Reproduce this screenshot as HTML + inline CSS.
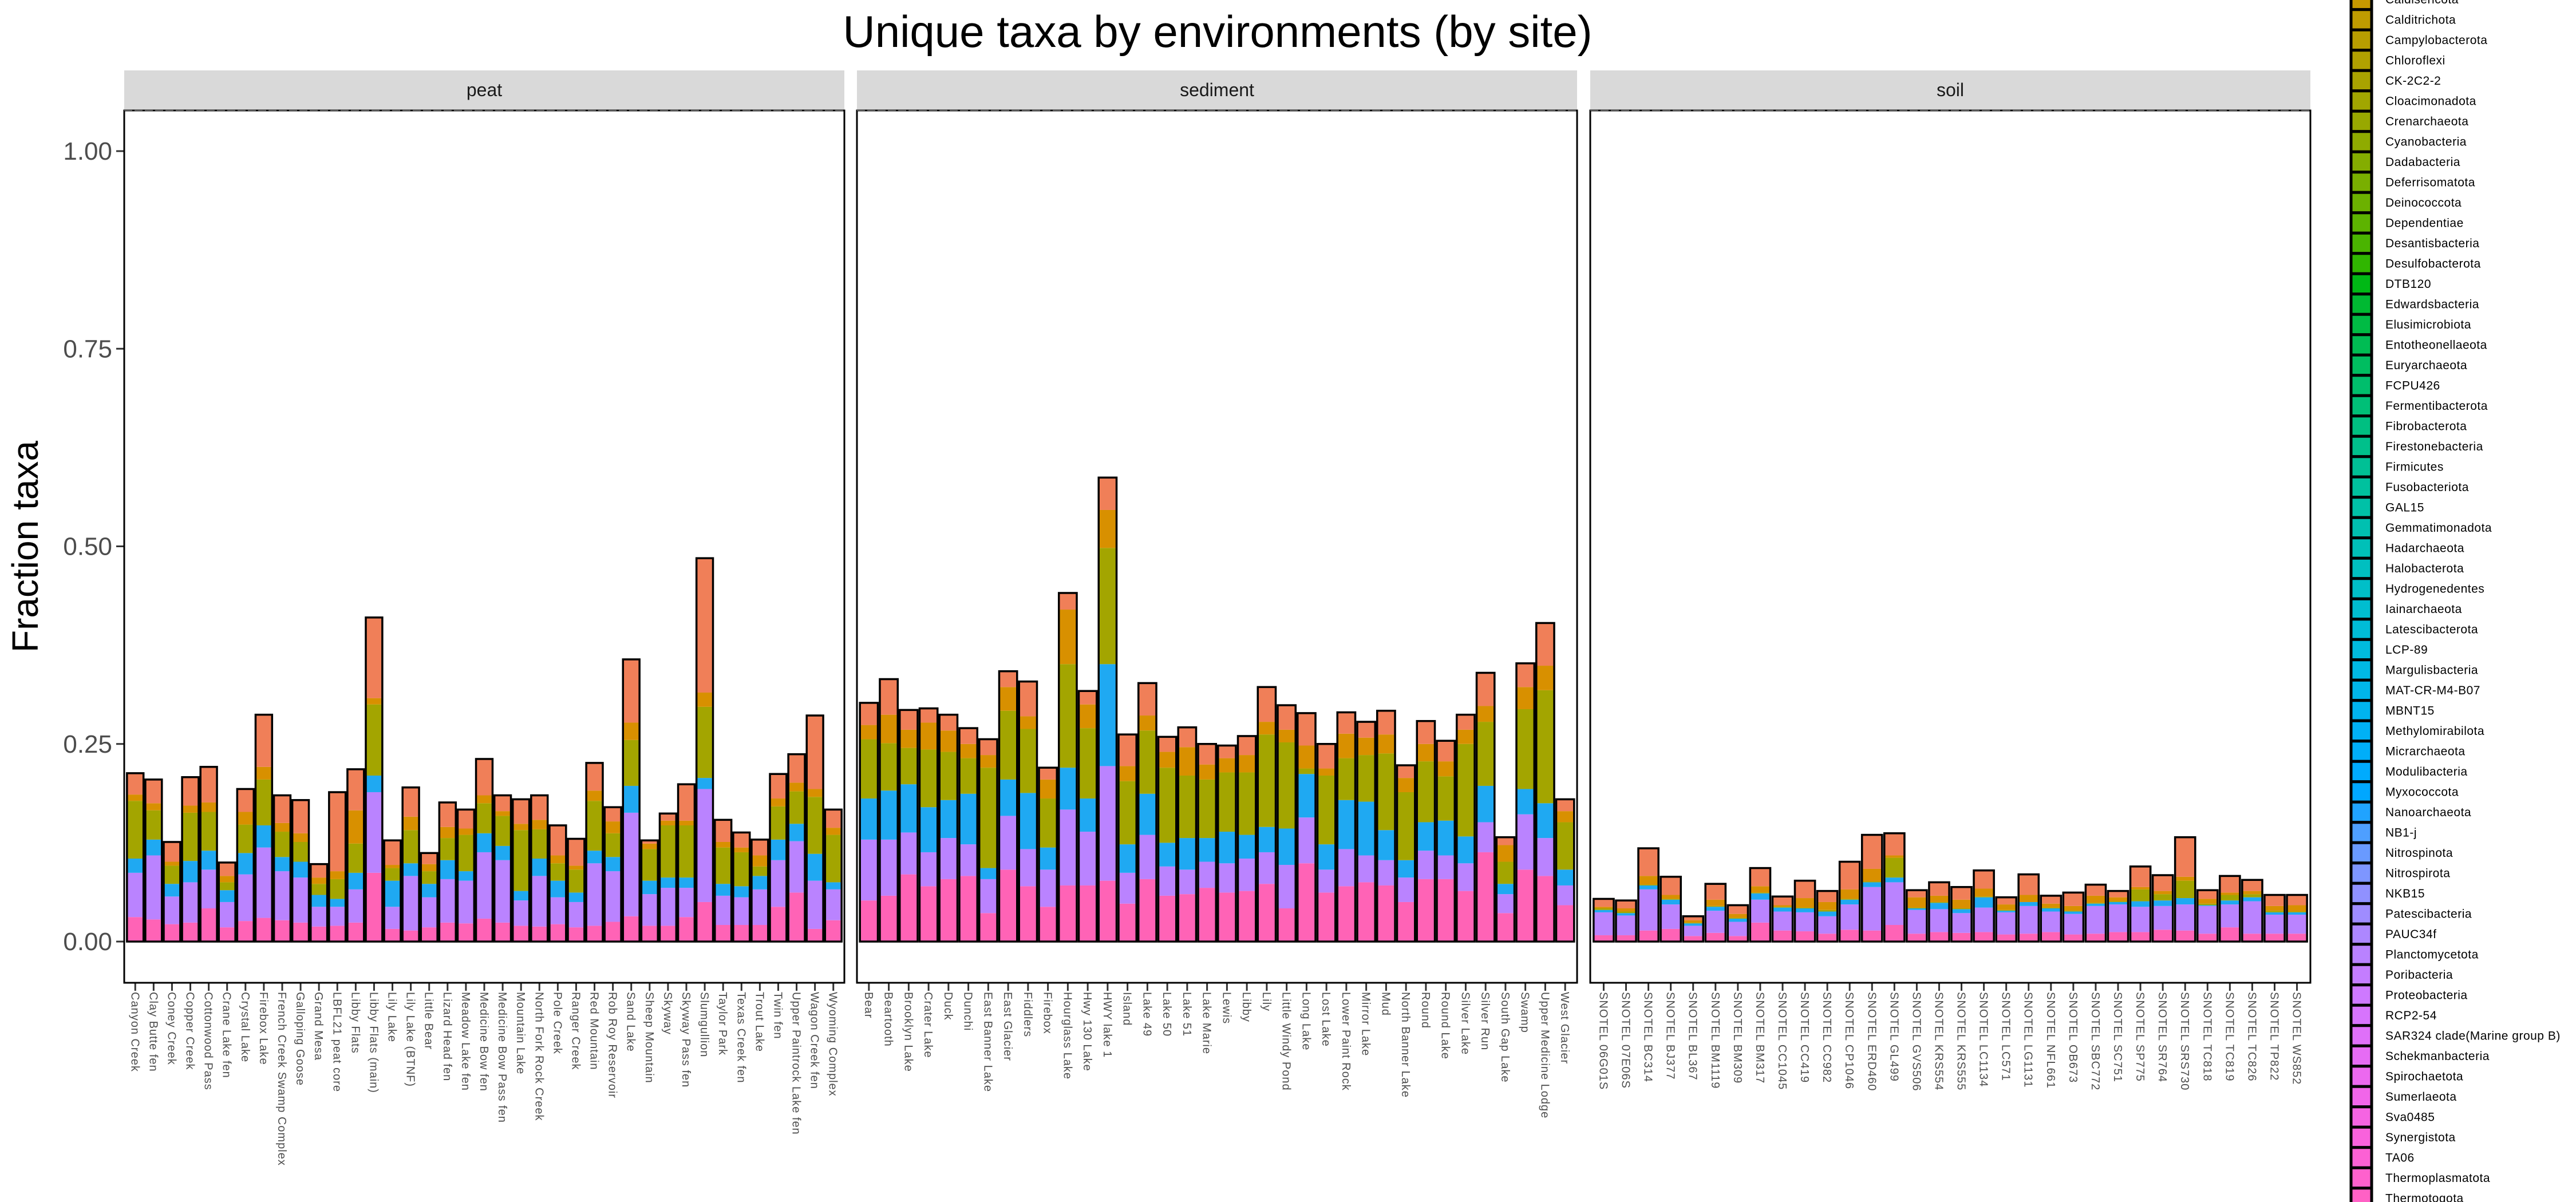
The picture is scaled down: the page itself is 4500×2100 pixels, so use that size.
<!DOCTYPE html>
<html><head><meta charset="utf-8">
<style>
html,body{margin:0;padding:0;background:#fff;}
svg{display:block;font-family:"Liberation Sans",Arial,sans-serif;}
</style></head>
<body>
<svg id="chart" width="4500" height="2100" viewBox="0 0 4500 2100" xmlns="http://www.w3.org/2000/svg">
<rect width="4500" height="2100" fill="#fff"/>
<text x="2127" y="82" font-size="78" text-anchor="middle" fill="#000">Unique taxa by environments (by site)</text>
<text transform="translate(66,955) rotate(-90)" font-size="64" text-anchor="middle" fill="#000">Fraction taxa</text>
<g id="panels"></g>
<g id="legend"></g>
</svg>
<script>
// ---------- data ----------
const yTicks = [0, 0.25, 0.5, 0.75, 1.0];
const yTickLabels = ["0.00", "0.25", "0.50", "0.75", "1.00"];
const facetNames = ["peat", "sediment", "soil"];

const peatSites = ["Canyon Creek","Clay Butte fen","Coney Creek","Copper Creek","Cottonwood Pass","Crane Lake fen","Crystal Lake","Firebox Lake","French Creek Swamp Complex","Galloping Goose","Grand Mesa","LBFL21 peat core","Libby Flats","Libby Flats (main)","Lily Lake","Lily Lake (BTNF)","Little Bear","Lizard Head fen","Meadow Lake fen","Medicine Bow fen","Medicine Bow Pass fen","Mountain Lake","North Fork Rock Creek","Pole Creek","Ranger Creek","Red Mountain","Rob Roy Reservoir","Sand Lake","Sheep Mountain","Skyway","Skyway Pass fen","Slumgullion","Taylor Park","Texas Creek fen","Trout Lake","Twin fen","Upper Paintrock Lake fen","Wagon Creek fen","Wyoming Complex"];
const peatPinkTop   = [.031,.028,.022,.024,.042,.018,.026,.030,.027,.024,.019,.020,.024,.087,.016,.014,.018,.024,.023,.029,.024,.020,.019,.022,.018,.020,.025,.032,.020,.020,.031,.050,.021,.021,.021,.044,.062,.016,.027];
const peatPurpleTop = [.087,.109,.057,.075,.091,.050,.085,.119,.089,.081,.044,.044,.066,.189,.044,.083,.056,.079,.077,.113,.103,.052,.083,.056,.050,.099,.089,.163,.060,.068,.068,.193,.058,.056,.066,.103,.127,.077,.066];
const peatCyanTop   = [.105,.129,.073,.102,.115,.065,.112,.147,.107,.101,.059,.054,.087,.210,.077,.099,.073,.103,.089,.137,.121,.064,.105,.077,.062,.115,.107,.197,.077,.081,.081,.207,.073,.070,.083,.129,.149,.111,.075];
const peatOliveTop  = [.178,.166,.096,.163,.164,.075,.148,.205,.139,.126,.073,.079,.124,.300,.093,.141,.089,.131,.135,.175,.159,.141,.142,.099,.091,.178,.137,.255,.117,.147,.147,.297,.119,.113,.095,.171,.190,.183,.135];
const peatGoldTop   = [.186,.175,.101,.172,.176,.083,.164,.221,.150,.137,.081,.089,.166,.308,.097,.158,.098,.145,.143,.185,.165,.149,.154,.109,.096,.191,.152,.277,.124,.153,.153,.315,.126,.119,.109,.181,.201,.193,.144];
const peatTotal     = [.213,.205,.126,.208,.221,.100,.193,.287,.185,.179,.098,.189,.218,.410,.128,.195,.112,.176,.167,.231,.185,.180,.185,.147,.130,.226,.170,.357,.128,.162,.199,.485,.154,.138,.129,.212,.237,.286,.167];

const sedSites = ["Bear","Beartooth","Brooklyn Lake","Crater Lake","Duck","Dunchi","East Banner Lake","East Glacier","Fiddlers","Firebox","Hourglass Lake","Hwy 130 Lake","HWY lake 1","Island","Lake 49","Lake 50","Lake 51","Lake Marie","Lewis","Libby","Lily","Little Windy Pond","Long Lake","Lost Lake","Lower Paint Rock","Mirror Lake","Mud","North Banner Lake","Round","Round Lake","Silver Lake","Silver Run","South Gap Lake","Swamp","Upper Medicine Lodge","West Glacier"];
const sedPinkTop   = [.052,.058,.085,.070,.079,.083,.036,.091,.070,.044,.071,.071,.077,.048,.079,.058,.060,.068,.062,.064,.073,.042,.099,.062,.070,.075,.071,.050,.079,.079,.064,.113,.036,.091,.083,.046];
const sedPurpleTop = [.129,.129,.138,.113,.131,.123,.079,.159,.117,.091,.167,.139,.222,.087,.135,.095,.091,.101,.099,.105,.113,.097,.157,.091,.117,.109,.103,.081,.115,.109,.099,.151,.060,.161,.131,.071];
const sedCyanTop   = [.181,.191,.199,.170,.179,.187,.093,.205,.188,.119,.220,.181,.351,.123,.187,.125,.131,.131,.139,.135,.145,.143,.212,.123,.179,.177,.141,.103,.151,.153,.133,.197,.073,.193,.175,.091];
const sedOliveTop  = [.256,.251,.245,.243,.240,.232,.220,.292,.269,.181,.351,.270,.498,.203,.267,.220,.210,.205,.214,.214,.262,.252,.219,.210,.232,.236,.238,.189,.228,.209,.250,.278,.101,.294,.318,.151];
const sedGoldTop   = [.274,.287,.268,.277,.267,.250,.236,.322,.285,.205,.420,.300,.546,.222,.286,.240,.246,.224,.232,.236,.278,.268,.248,.219,.263,.258,.262,.207,.250,.228,.268,.298,.122,.322,.349,.165];
const sedTotal     = [.302,.332,.293,.295,.287,.270,.256,.342,.329,.220,.441,.317,.587,.262,.327,.259,.271,.250,.248,.260,.322,.299,.289,.250,.290,.278,.292,.223,.279,.254,.287,.340,.132,.352,.403,.180];

const soilSites = ["SNOTEL 06G01S","SNOTEL 07E06S","SNOTEL BC314","SNOTEL BJ377","SNOTEL BL367","SNOTEL BM1119","SNOTEL BM309","SNOTEL BM317","SNOTEL CC1045","SNOTEL CC419","SNOTEL CC982","SNOTEL CP1046","SNOTEL ERD460","SNOTEL GL499","SNOTEL GVS506","SNOTEL KRS554","SNOTEL KRS555","SNOTEL LC1134","SNOTEL LC571","SNOTEL LG1131","SNOTEL NFL661","SNOTEL OB673","SNOTEL SBC772","SNOTEL SC751","SNOTEL SP775","SNOTEL SR764","SNOTEL SRS730","SNOTEL TC818","SNOTEL TC819","SNOTEL TC826","SNOTEL TP822","SNOTEL WS852"];
const soilPinkTop   = [.008,.008,.014,.016,.007,.011,.007,.024,.014,.013,.010,.015,.014,.021,.010,.012,.011,.012,.009,.010,.012,.009,.010,.012,.012,.015,.014,.010,.018,.010,.010,.010];
const soilPurpleTop = [.037,.033,.066,.047,.020,.039,.025,.053,.038,.037,.032,.047,.069,.075,.040,.041,.036,.043,.037,.045,.038,.035,.045,.047,.044,.045,.047,.045,.047,.051,.034,.034];
const soilCyanTop   = [.040,.036,.071,.053,.023,.044,.029,.061,.043,.042,.038,.053,.075,.081,.042,.049,.041,.056,.039,.050,.042,.038,.048,.050,.051,.052,.055,.046,.052,.056,.037,.037];
const soilOliveTop  = [.042,.038,.072,.054,.024,.045,.030,.062,.044,.043,.040,.054,.076,.106,.043,.050,.042,.057,.040,.050,.043,.039,.049,.051,.066,.060,.077,.048,.059,.060,.039,.038];
const soilGoldTop   = [.044,.042,.083,.059,.027,.053,.035,.070,.046,.055,.050,.066,.092,.109,.056,.058,.053,.067,.047,.059,.048,.045,.058,.056,.069,.064,.082,.054,.062,.064,.045,.046];
const soilTotal     = [.054,.052,.118,.082,.032,.073,.046,.093,.057,.077,.064,.101,.135,.137,.065,.075,.069,.090,.056,.085,.058,.062,.072,.064,.095,.084,.132,.065,.083,.078,.059,.059];

const legendNames = ["Caldisericota","Calditrichota","Campylobacterota","Chloroflexi","CK-2C2-2","Cloacimonadota","Crenarchaeota","Cyanobacteria","Dadabacteria","Deferrisomatota","Deinococcota","Dependentiae","Desantisbacteria","Desulfobacterota","DTB120","Edwardsbacteria","Elusimicrobiota","Entotheonellaeota","Euryarchaeota","FCPU426","Fermentibacterota","Fibrobacterota","Firestonebacteria","Firmicutes","Fusobacteriota","GAL15","Gemmatimonadota","Hadarchaeota","Halobacterota","Hydrogenedentes","Iainarchaeota","Latescibacterota","LCP-89","Margulisbacteria","MAT-CR-M4-B07","MBNT15","Methylomirabilota","Micrarchaeota","Modulibacteria","Myxococcota","Nanoarchaeota","NB1-j","Nitrospinota","Nitrospirota","NKB15","Patescibacteria","PAUC34f","Planctomycetota","Poribacteria","Proteobacteria","RCP2-54","SAR324 clade(Marine group B)","Schekmanbacteria","Spirochaetota","Sumerlaeota","Sva0485","Synergistota","TA06","Thermoplasmatota","Thermotogota"];

// ---------- helpers ----------
const NS = "http://www.w3.org/2000/svg";
function mk(tag, attrs, parent){const e=document.createElementNS(NS,tag);for(const k in attrs)e.setAttribute(k,attrs[k]);if(parent)parent.appendChild(e);return e;}
function hcl(h,c,l){ // CIELUV polar -> sRGB hex
  const hr=h*Math.PI/180, U=c*Math.cos(hr), V=c*Math.sin(hr);
  const Xn=95.047,Yn=100,Zn=108.883;
  const un=4*Xn/(Xn+15*Yn+3*Zn), vn=9*Yn/(Xn+15*Yn+3*Zn);
  const Y = l>8 ? Yn*Math.pow((l+16)/116,3) : Yn*l/903.3;
  const u=U/(13*l)+un, v=V/(13*l)+vn;
  const X=Y*9*u/(4*v), Z=(9*Y/v - X - 15*Y)/3;
  let r= 3.2406*X-1.5372*Y-0.4986*Z, g=-0.9689*X+1.8758*Y+0.0415*Z, b=0.0557*X-0.2040*Y+1.0570*Z;
  const f=t=>{t/=100;t=t<=0.0031308?12.92*t:1.055*Math.pow(t,1/2.4)-0.055;return Math.max(0,Math.min(255,Math.round(t*255)));};
  return "#"+[f(r),f(g),f(b)].map(x=>x.toString(16).padStart(2,"0")).join("");
}

// ---------- layout ----------
const Y0 = 1645, YSCALE = 1381; // value -> pixel
function yPos(v){return Y0 - v*YSCALE;}
const panelTop = 193, panelBot = 1717;
const panelX = [217, 1497, 2778], panelW = 1258;
const facets = [
  {sites:peatSites, layers:[peatPinkTop,peatPurpleTop,peatCyanTop,peatOliveTop,peatGoldTop,peatTotal]},
  {sites:sedSites,  layers:[sedPinkTop,sedPurpleTop,sedCyanTop,sedOliveTop,sedGoldTop,sedTotal]},
  {sites:soilSites, layers:[soilPinkTop,soilPurpleTop,soilCyanTop,soilOliveTop,soilGoldTop,soilTotal]}
];
const layerColors = ["#FF63B6","#BA83FF","#1FA9F2","#A3A500","#D89000","#F07F58"];
const layerNames = ["pink","purple","cyan","olive","gold","orange"];

const svg = document.getElementById("chart");
const panels = document.getElementById("panels");

// y ticks
yTicks.forEach((t,i)=>{
  const y=yPos(t);
  const lab=mk("text",{x:196,y:y+15,"font-size":44,"text-anchor":"end",fill:"#4D4D4D"},panels);
  
  
  lab.textContent=yTickLabels[i];
  const tk=mk("line",{x1:203,x2:217,y1:y,y2:y,stroke:"#333","stroke-width":3},panels);
  
  
});

facets.forEach((f,fi)=>{
  const px=panelX[fi];
  const g=mk("g",{},panels);
  
  
  const strip=mk("rect",{x:px,y:123,width:panelW,height:70,fill:"#D9D9D9"},g);
  
  
  const st=mk("text",{x:px+panelW/2,y:168,"font-size":32,"text-anchor":"middle",fill:"#1A1A1A"},g);
  
  
  st.textContent=facetNames[fi];
  const bg=mk("rect",{x:px,y:panelTop,width:panelW,height:panelBot-panelTop,fill:"#fff"},g);
  
  
  const n=f.sites.length;
  const step=panelW/(n+0.2);
  const bw=step*0.9;
  for(let i=0;i<n;i++){
    const cx=px+step*(i+0.6);
    const bar=mk("g",{},g);
    
    
    let prev=0;
    for(let L=0;L<6;L++){
      const top=f.layers[L][i];
      const h=Math.max(0,yPos(prev)-yPos(top));
      const seg=mk("rect",{x:cx-bw/2,y:yPos(top),width:bw,height:h,fill:layerColors[L]},bar);
      
      
      prev=top;
    }
    const out=mk("rect",{x:cx-bw/2,y:yPos(f.layers[5][i]),width:bw,height:yPos(0)-yPos(f.layers[5][i]),fill:"none",stroke:"#000","stroke-width":3.5},bar);
    
    
    const tk=mk("line",{x1:cx,x2:cx,y1:panelBot,y2:panelBot+14,stroke:"#333","stroke-width":3},g);
    
    
    const lab=mk("text",{transform:`translate(${cx-7},1733) rotate(90)`,"font-size":20,fill:"#4D4D4D","letter-spacing":"1"},g);
    
    
    lab.textContent=f.sites[i];
  }
  const bd=mk("rect",{x:px,y:panelTop,width:panelW,height:panelBot-panelTop,fill:"none",stroke:"#000","stroke-width":3},g);
  
  
  const dl=mk("line",{x1:px,x2:px+panelW,y1:panelTop,y2:panelTop,stroke:"#555","stroke-width":2,"stroke-dasharray":"14 4"},g);
  
  
});

// legend
const leg=document.getElementById("legend");
const NHUE=79, K0=11;
legendNames.forEach((nm,i)=>{
  const cy=-1+35.5*i;
  const col=hcl(15+(K0+i)*360/NHUE,100,65);
  const ent=mk("g",{},leg);
  
  
  const k=mk("rect",{x:4107,y:cy-17.75,width:36,height:35.5,fill:col,stroke:"#000","stroke-width":5},ent);
  
  
  const t=mk("text",{x:4167,y:cy+7,"font-size":21,fill:"#000","letter-spacing":"0.5"},ent);
  
  
  t.textContent=nm;
});
</script>
</body></html>
